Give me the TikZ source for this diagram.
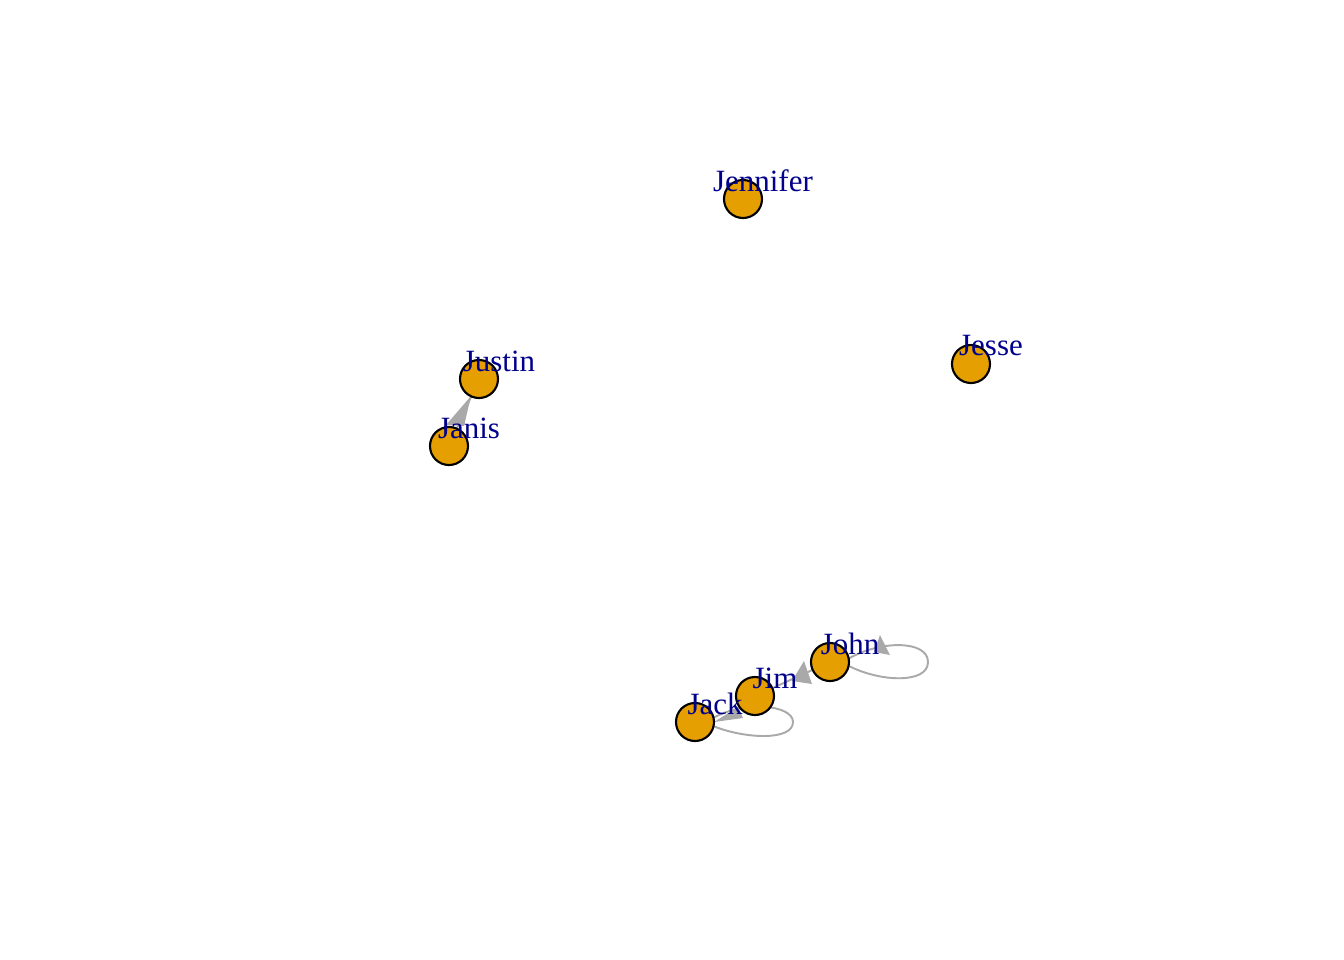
\documentclass[tikz,border=0pt]{standalone}
\usepackage{fontspec}
\setmainfont{Liberation Serif}
\definecolor{vfill}{HTML}{E69F00}
\definecolor{lab}{HTML}{00008B}
\definecolor{edge}{HTML}{A9A9A9}
\begin{document}
\begin{tikzpicture}[x=0.01cm,y=-0.01cm,
  vtx/.style={circle,draw=black,line width=0.6pt,fill=vfill,minimum size=0.38cm,inner sep=0pt},
  lbl/.style={text=lab,font=\fontsize{8.8pt}{10pt}\selectfont,inner sep=0pt,anchor=center},
  edg/.style={draw=edge,line width=0.55pt},
  head/.style={fill=edge,draw=none}]
\useasboundingbox (0,0) rectangle (1344,960);
% vertex positions
\coordinate (pJennifer) at (743,199);
\coordinate (pJustin) at (479,379);
\coordinate (pJanis) at (449,446);
\coordinate (pJesse) at (971,364);
\coordinate (pJohn) at (830,662);
\coordinate (pJim) at (755,696);
\coordinate (pJack) at (695,722);
% edges
\draw[edg] (pJanis) -- (pJustin);
\draw[edg] (pJim) -- (pJohn);
\draw[edg] (pJohn) ++(18,-3) .. controls (880,640) and (928,640) .. (928,662) .. controls (928,684) and (880,682) .. (849,666);
\draw[edg] (pJack) ++(18,-4) .. controls (745,700) and (793,705) .. (793,722) .. controls (793,741) and (745,739) .. (713,726);
% arrow heads
\fill[head] (471,396) -- (446,425) -- (464,426) -- cycle;
\fill[head] (804,661) -- (792,681) -- (812,684) -- cycle;
\fill[head] (880,635) -- (874,652) -- (890,655) -- cycle;
\fill[head] (714,722) -- (738,707) -- (743,718) -- cycle;
% vertices
\node[vtx] (Jennifer) at (pJennifer) {};
\node[vtx] (Justin) at (pJustin) {};
\node[vtx] (Janis) at (pJanis) {};
\node[vtx] (Jesse) at (pJesse) {};
\node[vtx] (John) at (pJohn) {};
\node[vtx] (Jim) at (pJim) {};
\node[vtx] (Jack) at (pJack) {};
% labels
\node[lbl] (lJennifer) at (763,181) {Jennifer};
\node[lbl] (lJustin) at (499,361) {Justin};
\node[lbl] (lJanis) at (469,428) {Janis};
\node[lbl] (lJesse) at (991,346) {Jesse};
\node[lbl] (lJohn) at (850,644) {John};
\node[lbl] (lJim) at (775,678) {Jim};
\node[lbl] (lJack) at (715,704) {Jack};
\end{tikzpicture}
\end{document}
